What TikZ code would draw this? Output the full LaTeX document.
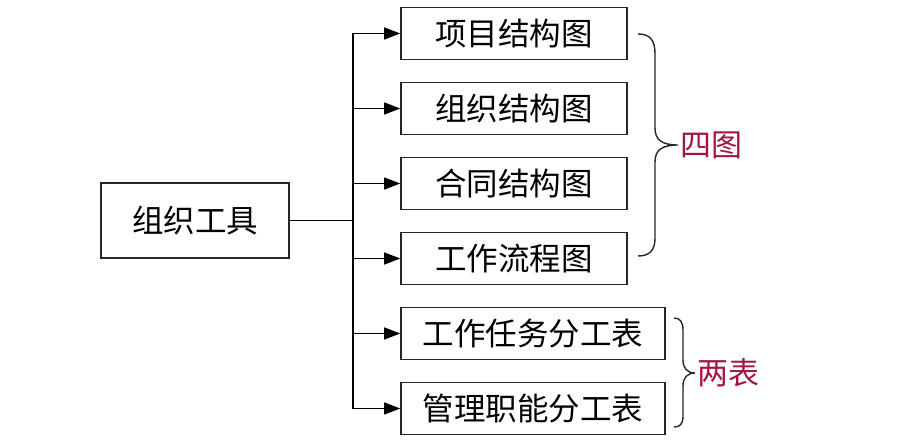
\documentclass[tikz,border=0pt]{standalone}
\usepackage{fontspec}
\newfontfamily\cjk{Noto Sans CJK SC}
\usetikzlibrary{arrows.meta}
\definecolor{labred}{RGB}{160,22,68}
\begin{document}
\begin{tikzpicture}[x=1pt,y=-1pt,
  box/.style={draw=black!85,line width=1.6pt,minimum height=52pt,inner sep=0pt,font=\cjk\fontsize{31.5}{33}\selectfont},
  link/.style={line width=1.4pt},
  arr/.style={link,-{Triangle[length=16pt,width=12pt]}},
  brace/.style={line width=1.4pt,black!85},
  lab/.style={font=\cjk\fontsize{31}{33}\selectfont,text=labred,inner sep=0pt}]
\useasboundingbox (0,0) rectangle (912,443);
\node[box,minimum width=188pt,minimum height=75pt] (root) at (195,220.5) {组织工具};
\node[box,minimum width=226pt] (b1) at (514,33.5) {项目结构图};
\node[box,minimum width=226pt] (b2) at (514,108.5) {组织结构图};
\node[box,minimum width=226pt] (b3) at (514,183.5) {合同结构图};
\node[box,minimum width=226pt] (b4) at (514,258.5) {工作流程图};
\node[box,minimum width=264pt] (b5) at (533,333.5) {工作任务分工表};
\node[box,minimum width=264pt] (b6) at (533,408.5) {管理职能分工表};
\coordinate (trunk) at (353,220.5);
\coordinate (ttop) at (353,33.5);
\coordinate (tbot) at (353,408.5);
\draw[link] (root.east) -- (trunk);
\draw[link] (ttop) -- (tbot);
\foreach \b in {b1,b2,b3,b4,b5,b6}{
  \draw[arr] (trunk |- \b.west) -- (\b.west);
}
\draw[brace] (638,34) .. controls (650,34) and (655,40) .. (655,54) -- (655,128)
  .. controls (655,140) and (662,145) .. (678,145)
  .. controls (662,145) and (655,150) .. (655,162) -- (655,238)
  .. controls (655,250) and (650,256) .. (638,256);
\node[lab] (situ) at (711,145) {四图};
\draw[brace] (674,318) .. controls (680,318) and (683,322) .. (683,330) -- (683,360)
  .. controls (683,368) and (687,373) .. (695,373)
  .. controls (687,373) and (683,378) .. (683,386) -- (683,416)
  .. controls (683,424) and (680,427) .. (674,427);
\node[lab] (liangbiao) at (728,373) {两表};
\end{tikzpicture}
\end{document}
